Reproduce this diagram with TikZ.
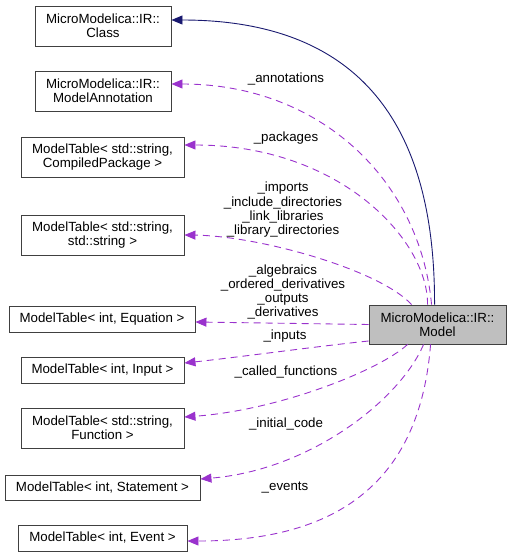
\documentclass[tikz,border=0pt]{standalone}
\usepackage{fontspec}
\setmainfont{Liberation Sans}
\usetikzlibrary{arrows.meta}
\definecolor{edgepurple}{HTML}{9A32CD}
\definecolor{edgeblue}{HTML}{191970}
\definecolor{boxgray}{HTML}{BFBFBF}
\definecolor{framegray}{HTML}{404040}

\begin{document}
\begin{tikzpicture}[x=1pt,y=-1pt,
  font=\fontsize{13.3}{14.3}\selectfont,
  box/.style={draw=framegray,line width=0.9pt,align=center,inner sep=0pt},
  member/.style={edgepurple,line width=0.9pt,dash pattern=on 7pt off 5pt,-{Triangle[length=11pt,width=9pt]}},
  inherit/.style={edgeblue,line width=0.9pt,-{Triangle[length=11pt,width=9pt]}},
  lbl/.style={align=center,inner sep=0pt}]
\useasboundingbox (0,0) rectangle (511,557);

% classes
\node[box,fill=boxgray,minimum width=137pt,minimum height=39pt] (model) at (437.5,324.5) {MicroModelica::IR::\\Model};
\node[box,minimum width=136pt,minimum height=40pt] (cls) at (103,26) {MicroModelica::IR::\\Class};
\node[box,minimum width=136pt,minimum height=40pt] (annot) at (103,91) {MicroModelica::IR::\\ModelAnnotation};
\node[box,minimum width=163pt,minimum height=40pt] (pkg) at (102.5,157) {ModelTable< std::string,\\CompiledPackage >};
\node[box,minimum width=163pt,minimum height=40pt] (strs) at (102.5,235) {ModelTable< std::string,\\std::string >};
\node[box,minimum width=186pt,minimum height=26pt] (eqn) at (102,319) {ModelTable< int, Equation >};
\node[box,minimum width=163pt,minimum height=26pt] (inp) at (102.5,370) {ModelTable< int, Input >};
\node[box,minimum width=163pt,minimum height=40pt] (fun) at (102.5,428) {ModelTable< std::string,\\Function >};
\node[box,minimum width=195pt,minimum height=25pt] (stm) at (102.5,487.5) {ModelTable< int, Statement >};
\node[box,minimum width=169pt,minimum height=26pt] (evt) at (102.5,538) {ModelTable< int, Event >};

% inheritance
\draw[inherit] ([xshift=66pt]model.north west) .. controls (435,150) and (380,20) .. ([yshift=6pt]cls.east);

% members, upper side
\draw[member] ([xshift=63pt]model.north west) .. controls (420,180) and (320,84) .. ([yshift=7pt]annot.east);
\draw[member] ([xshift=59pt]model.north west) .. controls (428,240) and (340,145) .. ([yshift=12pt]pkg.east);
\draw[member] ([xshift=43pt]model.north west) .. controls (380,270) and (260,236) .. (strs.east);
\draw[member] (model.west) -- ([yshift=-3pt]eqn.east);
\draw[member] ([yshift=-16.5pt]model.west) .. controls (320,346) and (240,357) .. ([yshift=7pt]inp.east);

% members, lower side
\draw[member] ([xshift=39pt]model.south west) .. controls (380,370) and (280,410) .. ([yshift=11pt]fun.east);
\draw[member] ([xshift=55pt]model.south west) .. controls (400,400) and (310,470) .. ([yshift=8.5pt]stm.east);
\draw[member] ([xshift=62pt]model.south west) .. controls (420,480) and (340,541) .. ([yshift=-3pt]evt.east);

% labels
\node[lbl] (lannot) at (286,79) {\_annotations};
\node[lbl] (lpkg) at (286,138) {\_packages};
\node[lbl] (lstrs) at (283,210) {\_imports\\\_include\_directories\\\_link\_libraries\\\_library\_directories};
\node[lbl] (leqn) at (283,292) {\_algebraics\\\_ordered\_derivatives\\\_outputs\\\_derivatives};
\node[lbl] (linp) at (285,336) {\_inputs};
\node[lbl] (lfun) at (286,372) {\_called\_functions};
\node[lbl] (lstm) at (286,424) {\_initial\_code};
\node[lbl] (levt) at (285,488) {\_events};
\end{tikzpicture}
\end{document}
